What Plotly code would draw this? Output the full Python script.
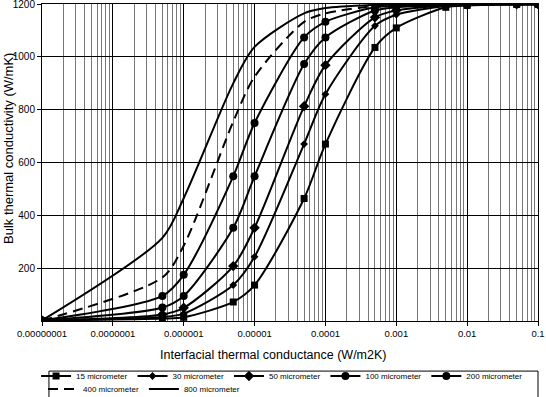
import plotly.graph_objects as go

# Interfacial thermal conductance (x) values shared by all series
conductance = [1e-8, 5e-7, 1e-6, 5e-6, 1e-5, 5e-5, 1e-4, 5e-4, 1e-3, 5e-3, 1e-2, 5e-2, 1e-1]

series_names = ["15 micrometer", "30 micrometer", "50 micrometer", "100 micrometer",
                "200 micrometer", "400 micrometer", "800 micrometer"]

k_15 = [2, 9, 14, 72, 136, 464, 670, 1036, 1110, 1188, 1195, 1199, 1200]
k_30 = [2, 15, 28, 136, 243, 670, 859, 1118, 1160, 1193, 1197, 1200, 1200]
k_50 = [2, 25, 50, 208, 353, 813, 969, 1150, 1176, 1195, 1198, 1200, 1200]
k_100 = [2, 51, 95, 353, 548, 973, 1074, 1176, 1188, 1197, 1199, 1200, 1200]
k_200 = [2, 95, 175, 548, 750, 1074, 1133, 1188, 1194, 1198, 1199, 1200, 1200]
k_400 = [2, 165, 285, 755, 925, 1133, 1165, 1193, 1197, 1199, 1200, 1200, 1200]
k_800 = [2, 315, 465, 900, 1038, 1165, 1185, 1197, 1199, 1200, 1200, 1200, 1200]

x_tickvals = [1e-8, 1e-7, 1e-6, 1e-5, 1e-4, 1e-3, 1e-2, 1e-1]
x_ticktext = ["0.00000001", "0.0000001", "0.000001", "0.00001", "0.0001", "0.001", "0.01", "0.1"]
y_tickvals = [200, 400, 600, 800, 1000, 1200]

x_title = "Interfacial thermal conductance (W/m2K)"
y_title = "Bulk thermal conductivity (W/mK)"

all_series = [k_15, k_30, k_50, k_100, k_200, k_400, k_800]
symbols = ["square", "diamond", "diamond", "circle", "circle", None, None]
sizes = [7, 6, 8, 8, 8, 0, 0]
dashes = ["solid"] * 5 + ["10px,6px", "solid"]
legend_ids = ["legend"] * 5 + ["legend2"] * 2

fig = go.Figure()
for name, ys, sym, sz, dash, lg in zip(series_names, all_series, symbols, sizes, dashes, legend_ids):
    line = dict(color="black", width=2, shape="spline", smoothing=0.8, dash=dash)
    if sym is not None:
        fig.add_trace(go.Scatter(
            x=conductance, y=ys, name=name, mode="lines+markers", legend=lg,
            line=line, marker=dict(symbol=sym, size=sz, color="black"),
        ))
    else:
        fig.add_trace(go.Scatter(
            x=conductance, y=ys, name=name, mode="lines", legend=lg, line=line,
        ))

font_family = "Liberation Sans, Arial, sans-serif"
legend_common = dict(
    orientation="h", xanchor="left", yanchor="middle",
    borderwidth=0, bgcolor="rgba(0,0,0,0)",
    font=dict(size=8, family=font_family, color="black"),
    itemwidth=30, tracegroupgap=0,
)

fig.update_layout(
    width=546, height=397,
    margin=dict(l=42, r=8, t=4, b=76, autoexpand=False),
    paper_bgcolor="white", plot_bgcolor="white",
    font=dict(family=font_family, color="black", size=10),
    showlegend=True,
    legend=dict(x=-0.012, y=-0.1735, **legend_common),
    legend2=dict(x=0.002, y=-0.2145, **legend_common),
    xaxis=dict(
        type="log", range=[-8, -1],
        tickmode="array", tickvals=x_tickvals, ticktext=x_ticktext,
        tickfont=dict(size=9.5), ticklabeloverflow="allow",
        showgrid=True, gridcolor="black", gridwidth=1,
        minor=dict(dtick="D1", showgrid=True, gridcolor="#777777", gridwidth=1, ticks=""),
        showline=True, linecolor="black", linewidth=1, mirror=True,
        ticks="outside", ticklen=4, tickcolor="black",
        zeroline=False, automargin=False,
    ),
    yaxis=dict(
        range=[0, 1200.5],
        tickmode="array", tickvals=y_tickvals,
        tickfont=dict(size=10), ticklabeloverflow="allow",
        showgrid=True, gridcolor="black", gridwidth=1,
        showline=True, linecolor="black", linewidth=1, mirror=True,
        ticks="outside", ticklen=4, tickcolor="black",
        zeroline=False, automargin=False,
    ),
    annotations=[
        dict(text=x_title, xref="paper", yref="paper", x=0.466, y=-0.107,
             xanchor="center", yanchor="middle", showarrow=False,
             font=dict(size=12.5, family=font_family, color="black")),
        dict(text=y_title, xref="paper", yref="paper", x=-0.0665, y=0.5426,
             xanchor="center", yanchor="middle", showarrow=False, textangle=-90,
             font=dict(size=13, family=font_family, color="black")),
    ],
    shapes=[dict(
        type="rect", xref="paper", yref="paper",
        x0=0.014, x1=1.0, y0=-0.158, y1=-0.27,
        line=dict(color="black", width=1), fillcolor="rgba(0,0,0,0)", layer="above",
    )],
)

fig.write_html("out.html", config={"displayModeBar": False},
               post_script="document.body.style.margin='0px';")
